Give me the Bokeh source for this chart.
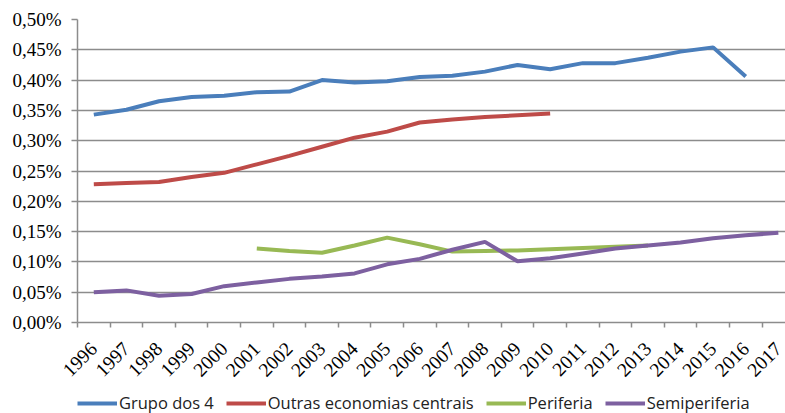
import math
from bokeh.plotting import figure
from bokeh.layouts import column
from bokeh.models import FixedTicker, Range1d, Legend, LegendItem
from bokeh.embed import file_html
from bokeh.resources import INLINE

years = [str(y) for y in range(1996, 2018)]

grupo_dos_4 = [0.343, 0.351, 0.365, 0.372, 0.374, 0.380, 0.381, 0.400, 0.396, 0.398,
               0.405, 0.407, 0.414, 0.425, 0.418, 0.428, 0.428, 0.437, 0.447, 0.454,
               0.406]
outras_centrais = [0.228, 0.230, 0.232, 0.240, 0.247, 0.261, 0.275, 0.290, 0.305, 0.315,
                   0.330, 0.335, 0.339, 0.342, 0.345]
periferia_years = years[5:18]
periferia = [0.122, 0.118, 0.115, 0.127, 0.140, 0.129, 0.117, 0.118, 0.119, 0.121,
             0.123, 0.125, 0.127]
semiperiferia = [0.050, 0.053, 0.044, 0.047, 0.060, 0.066, 0.072, 0.076, 0.081, 0.096,
                 0.105, 0.120, 0.133, 0.101, 0.106, 0.114, 0.122, 0.127, 0.132, 0.139,
                 0.144, 0.148]

y_ticks = [i * 0.05 for i in range(11)]
y_labels = [("%.2f" % t).replace(".", ",") + "%" for t in y_ticks]

series = [
    ("Grupo dos 4", years[:len(grupo_dos_4)], grupo_dos_4, "#4A7EBB"),
    ("Outras economias centrais", years[:len(outras_centrais)], outras_centrais, "#BE4B48"),
    ("Periferia", periferia_years, periferia, "#98B954"),
    ("Semiperiferia", years[:len(semiperiferia)], semiperiferia, "#7D60A0"),
]

def xpos(yr):
    return years.index(yr) + 0.5

p = figure(frame_width=708, frame_height=303, output_backend="svg", toolbar_location=None,
           x_range=Range1d(0, 21.72), y_range=Range1d(0, 0.5),
           min_border_left=77, min_border_top=19, min_border_right=0,
           min_border_bottom=72, border_fill_color="white")
p.outline_line_color = None
p.background_fill_color = "white"

# legend strip below the chart (its lines sit outside its own visible range)
lg = figure(width=785, height=19, output_backend="svg", toolbar_location=None,
            x_range=Range1d(0, 21.72), y_range=Range1d(10, 11),
            min_border=0, x_axis_type=None, y_axis_type=None)
lg.outline_line_color = None
lg.xgrid.visible = False
lg.ygrid.visible = False

items = []
for name, yrs, vals, color in series:
    xs = [xpos(y) for y in yrs]
    p.line(xs, vals, line_color=color, line_width=4)
    r = lg.line(xs, vals, line_color=color, line_width=4)
    items.append(LegendItem(label=name, renderers=[r]))

# axes
grey = "#8C8C8C"
p.yaxis.ticker = FixedTicker(ticks=y_ticks)
p.yaxis.major_label_overrides = dict(zip(y_ticks, y_labels))
p.yaxis.major_label_text_font = "Liberation Serif"
p.yaxis.major_label_text_font_size = "19px"
p.yaxis.major_label_text_color = "black"
p.yaxis.axis_line_color = grey
p.yaxis.axis_line_width = 1.5
p.yaxis.major_tick_line_color = grey
p.yaxis.major_tick_line_width = 1.5
p.yaxis.major_tick_out = 6
p.yaxis.major_tick_in = 0
p.yaxis.minor_tick_line_color = None
p.yaxis.major_label_standoff = 10

x_centers = [i + 0.5 for i in range(len(years))]
p.xaxis.ticker = FixedTicker(ticks=x_centers, minor_ticks=list(range(0, 22)))
p.xaxis.major_label_overrides = dict(zip(x_centers, years))
p.xaxis.major_label_orientation = math.pi / 4
p.xaxis.major_label_text_font = "Liberation Serif"
p.xaxis.major_label_text_font_size = "19.5px"
p.xaxis.major_label_text_color = "black"
p.xaxis.major_tick_line_color = None
p.xaxis.minor_tick_line_color = grey
p.xaxis.minor_tick_line_width = 1.5
p.xaxis.minor_tick_out = 5
p.xaxis.minor_tick_in = 0
p.xaxis.axis_line_color = grey
p.xaxis.axis_line_width = 1.5
p.xaxis.major_label_standoff = 17

p.xgrid.grid_line_color = None
p.ygrid.ticker = FixedTicker(ticks=y_ticks)
p.ygrid.grid_line_color = grey
p.ygrid.grid_line_width = 1.5

legend = Legend(items=items, orientation="horizontal", location=(0, -1),
                glyph_width=40, glyph_height=16, label_standoff=2, spacing=12,
                padding=0, margin=0, border_line_color=None,
                background_fill_alpha=0,
                label_text_font="Open Sans", label_text_font_size="16.5px",
                label_text_color="#222222", label_height=16)
lg.add_layout(legend)

layout = column(p, lg, spacing=0)
open("out.html", "w").write(file_html(layout, INLINE))
